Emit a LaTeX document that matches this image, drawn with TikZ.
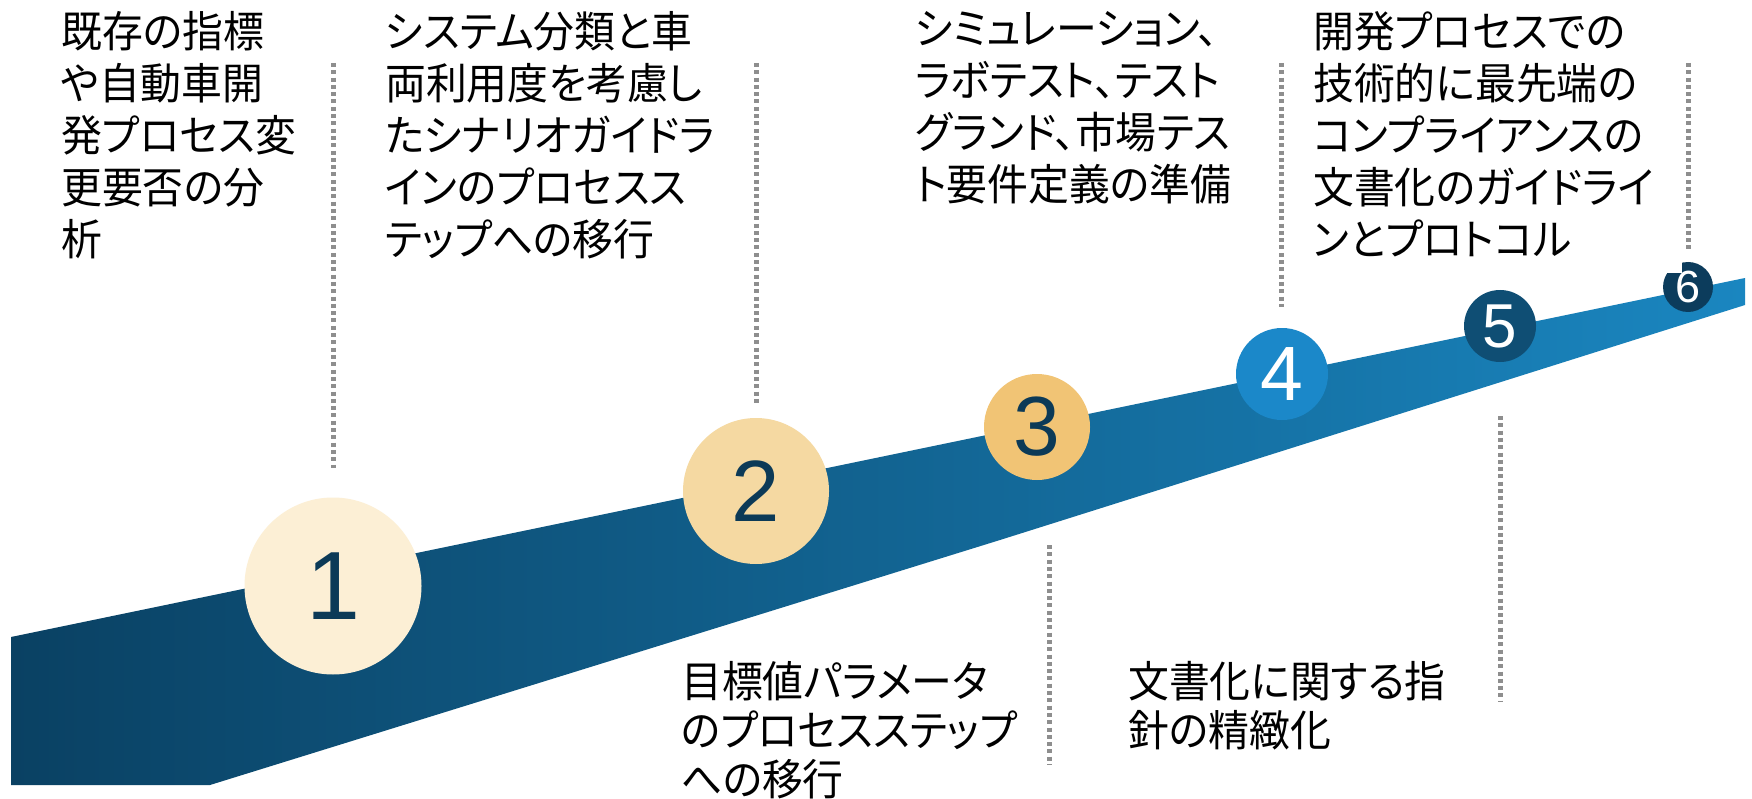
\documentclass[tikz,border=0pt]{standalone}
\usepackage{fontspec}
\setmainfont{Liberation Sans}
\newfontfamily\jpfont[RawFeature=+palt, FakeStretch=0.95]{Noto Sans CJK JP}
\definecolor{ribA}{HTML}{0A4163}
\definecolor{ribM}{HTML}{0D5580}
\definecolor{ribB}{HTML}{1A86C0}
\definecolor{colA}{HTML}{FCEFD5}
\definecolor{colB}{HTML}{F5D9A2}
\definecolor{colC}{HTML}{F1C475}
\definecolor{colD}{HTML}{1B88C9}
\definecolor{colE}{HTML}{0F4E74}
\definecolor{colF}{HTML}{0C3C5C}
\definecolor{numdark}{HTML}{0C3A57}
\definecolor{dotgray}{HTML}{8E8E8E}
\tikzset{
  jtext/.style={anchor=north west, inner sep=0pt, align=left, text=black,
    font={\jpfont\fontsize{43pt}{52pt}\selectfont}},
  jtextlow/.style={jtext, font={\jpfont\fontsize{43pt}{49pt}\selectfont}},
  numcircle/.style={circle, inner sep=0pt, draw=none},
  dotline/.style={draw=dotgray, line width=5pt, dash pattern=on 4pt off 3.3pt},
}
\begin{document}
\begin{tikzpicture}[x=1pt,y=-1pt]
\useasboundingbox (0,0) rectangle (1752,799);
\fill[white] (0,0) rectangle (1752,799);
% ribbon
\shade[left color=ribA, middle color=ribM, right color=ribB]
  (11,637) -- (1745,278) -- (1745,305) -- (1000,540) -- (210,785) -- (11,785) -- cycle;
% dotted lines
\coordinate (l1a) at (333,63);  \coordinate (l1b) at (333,468);
\coordinate (l2a) at (756,63);  \coordinate (l2b) at (756,405);
\coordinate (l3a) at (1049,545); \coordinate (l3b) at (1049,765);
\coordinate (l4a) at (1281,63); \coordinate (l4b) at (1281,307);
\coordinate (l5a) at (1500,416); \coordinate (l5b) at (1500,702);
\coordinate (l6a) at (1688,63); \coordinate (l6b) at (1688,252);
\draw[dotline] (l1a) -- (l1b);
\draw[dotline] (l2a) -- (l2b);
\draw[dotline] (l3a) -- (l3b);
\draw[dotline] (l4a) -- (l4b);
\draw[dotline] (l5a) -- (l5b);
\draw[dotline] (l6a) -- (l6b);
% circles
\node[numcircle, minimum size=177pt, fill=colA, text=numdark, font=\fontsize{97pt}{97pt}\selectfont] (n1) at (333,586) {1};
\node[numcircle, minimum size=146pt, fill=colB, text=numdark, font=\fontsize{87pt}{87pt}\selectfont] (n2) at (756,491) {2};
\node[numcircle, minimum size=106pt, fill=colC, text=numdark, font=\fontsize{84pt}{84pt}\selectfont] (n3) at (1037,427) {3};
\node[numcircle, minimum size=92pt, fill=colD, text=white, font=\fontsize{77pt}{77pt}\selectfont] (n4) at (1282,374) {4};
\node[numcircle, minimum size=72pt, fill=colE, text=white, font=\fontsize{62pt}{62pt}\selectfont] (n5) at (1500,326) {5};
\node[numcircle, minimum size=50pt, fill=colF, text=white, font=\fontsize{45pt}{45pt}\selectfont] (n6) at (1688,287) {6};
\fill[white] (1640,255) rectangle (1682,273);
% texts
\node[jtext] (t1) at (61,11) {既存の指標\\や自動車開\\発プロセス変\\更要否の分\\析};
\node[jtext] (t2) at (385,11) {システム分類と車\\両利用度を考慮し\\たシナリオガイドラ\\インのプロセスス\\テップへの移行};
\node[jtext] (t3) at (915,11) {シミュレーション、\\ラボテスト、テスト\\グランド、市場テス\\ト要件定義の準備};
\node[jtext] (t4) at (1313,11) {開発プロセスでの\\技術的に最先端の\\コンプライアンスの\\文書化のガイドライ\\ンとプロトコル};
\node[jtextlow] (t5) at (681,661) {目標値パラメータ\\のプロセスステップ\\への移行};
\node[jtextlow] (t6) at (1128,661) {文書化に関する指\\針の精緻化};
\end{tikzpicture}
\end{document}
